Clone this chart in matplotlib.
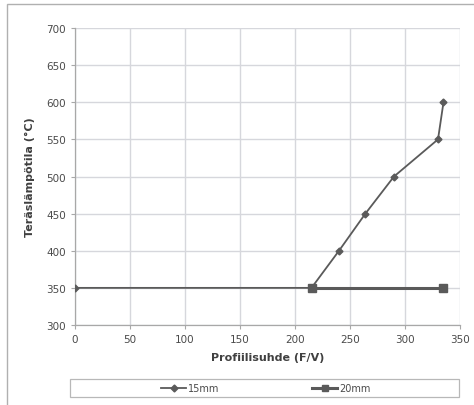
import matplotlib.pyplot as plt
from matplotlib.patches import Rectangle
from matplotlib.lines import Line2D

# Data
x_15 = [0, 215, 240, 264, 290, 330, 335]
y_15 = [350, 350, 400, 450, 500, 550, 600]
x_20 = [215, 335]
y_20 = [350, 350]
labels = ["15mm", "20mm"]

W, H = 474, 406
fig = plt.figure(figsize=(W / 100, H / 100), dpi=100)
ax = fig.add_axes([75 / W, 1 - 326 / H, (460 - 75) / W, (326 - 29) / H])

# outer chart border
fig.patches.append(Rectangle((7 / W, -0.05), 1.2, 1 - 5 / H + 0.05, transform=fig.transFigure,
                             fill=False, edgecolor="#b0b0b0", linewidth=1.0))

line_col = "#5a5a5a"
ax.plot(x_15, y_15, color=line_col, linewidth=1.3, marker="D", markersize=3.5, zorder=3)
ax.plot(x_20, y_20, color=line_col, linewidth=2.2, marker="s", markersize=5.5, zorder=4)

ax.set_xlim(0, 350)
ax.set_ylim(300, 700)
ax.set_xticks(range(0, 351, 50))
ax.set_yticks(range(300, 701, 50))
ax.grid(True, color="#d6d7dc", linewidth=1.0)
ax.set_axisbelow(True)

for s in ["top", "right"]:
    ax.spines[s].set_visible(False)
for s in ["left", "bottom"]:
    ax.spines[s].set_color("#a8a8a8")
    ax.spines[s].set_linewidth(0.9)
ax.tick_params(colors="#a8a8a8", labelcolor="#4a4a4a", labelsize=7.5, length=3, width=0.8)

ax.set_xlabel("Profiilisuhde (F/V)", fontsize=8, fontweight="bold", color="#404040", labelpad=6)
ax.set_ylabel("Teräslämpötila (°C)", fontsize=8, fontweight="bold", color="#404040", labelpad=8)

# legend box
fig.patches.append(Rectangle((70 / W, 1 - 398 / H), (459 - 70) / W, 18 / H, transform=fig.transFigure,
                             fill=False, edgecolor="#b8b8b8", linewidth=0.9))
handles = [
    Line2D([], [], color=line_col, linewidth=1.3, marker="D", markersize=3.5),
    Line2D([], [], color=line_col, linewidth=2.2, marker="s", markersize=5),
]
leg = fig.legend(handles, labels, loc="center", bbox_to_anchor=(266 / W, 1 - 389 / H),
                 ncol=2, fontsize=7, frameon=False, handlelength=2.6, handletextpad=0.2,
                 columnspacing=9.5)
for t in leg.get_texts():
    t.set_color("#4a4a4a")

fig.savefig("out.png", dpi=100)
